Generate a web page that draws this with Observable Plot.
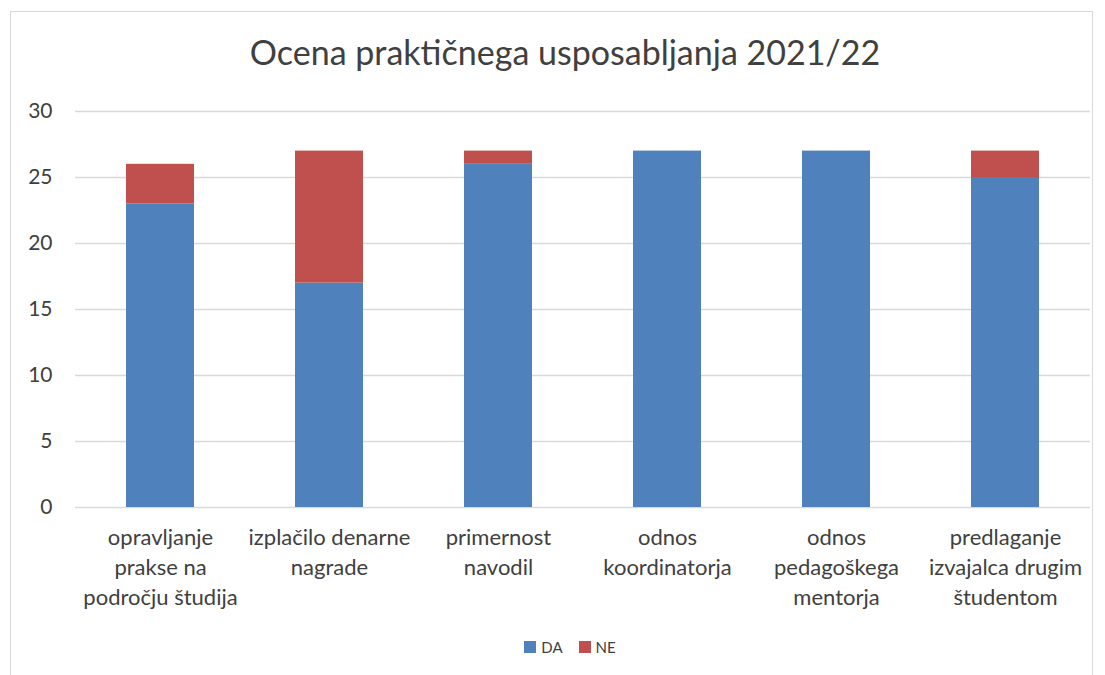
<!DOCTYPE html>
<html>
<head>
<meta charset="utf-8">
<script src="https://cdn.jsdelivr.net/npm/d3@7"></script>
<script src="https://cdn.jsdelivr.net/npm/@observablehq/plot@0.6"></script>
<style>
  body { margin: 0; background: #fff; font-family: Lato, "Open Sans", sans-serif; }
  #wrap { position: relative; width: 1105px; height: 675px; overflow: hidden; background: #fff; }
  #frame { position: absolute; left: 10px; top: 11px; width: 1083px; height: 700px; border: 1px solid #d9d9d9; box-sizing: border-box; }
  #title { position: absolute; left: 0; top: 32px; width: 1130px; text-align: center; font-size: 34px; color: #404040; line-height: 1.2; }
  #chart { position: absolute; left: 0; top: 0; }
  #legend { position: absolute; top: 638px; left: 0; width: 1140px; display: flex; justify-content: center; gap: 16px; font-size: 15px; color: #404040; }
  .item { display: flex; align-items: center; gap: 5px; }
  .sw { width: 12px; height: 12px; display: inline-block; }
</style>
</head>
<body>
<div id="wrap">
  <div id="frame"></div>
  <div id="title">Ocena praktičnega usposabljanja 2021/22</div>
  <div id="chart"></div>
  <div id="legend"></div>
</div>
<script>
const categories = [
  "opravljanje\nprakse na\npodročju študija",
  "izplačilo denarne\nnagrade",
  "primernost\nnavodil",
  "odnos\nkoordinatorja",
  "odnos\npedagoškega\nmentorja",
  "predlaganje\nizvajalca drugim\nštudentom"
];
const daValues = [23, 17, 26, 27, 27, 25];
const neValues = [3, 10, 1, 0, 0, 2];
const seriesNames = ["DA", "NE"];
const seriesColors = ["#4F81BD", "#C0504D"];
const yTicks = [0, 5, 10, 15, 20, 25, 30];

const rows = [];
categories.forEach((c, i) => {
  rows.push({category: c, series: "DA", value: daValues[i]});
  rows.push({category: c, series: "NE", value: neValues[i]});
});

const chart = Plot.plot({
  width: 1105,
  height: 620,
  marginTop: 111,
  marginBottom: 113,
  marginLeft: 75,
  marginRight: 15,
  style: {fontFamily: "Lato, 'Open Sans', sans-serif", fontSize: "21px", color: "#404040", background: "transparent"},
  x: {domain: categories, paddingInner: 0.6, paddingOuter: 0.3, axis: null},
  y: {domain: [0, 30], axis: null},
  color: {domain: seriesNames, range: seriesColors},
  marks: [
    Plot.ruleY(yTicks, {stroke: "#d9d9d9", strokeWidth: 1.5}),
    Plot.barY(rows, {x: "category", y: "value", fill: "series", order: seriesNames}),
    Plot.axisY({ticks: yTicks, tickSize: 0, tickPadding: 23, fontSize: 21, fill: "#404040", label: null}),
    Plot.text(categories, {x: d => d, text: d => d, frameAnchor: "bottom", lineAnchor: "top", dy: 16, lineHeight: 1.36, fontSize: 22, fill: "#404040"})
  ]
});
document.getElementById("chart").appendChild(chart);

const legend = document.getElementById("legend");
seriesNames.forEach((s, i) => {
  const item = document.createElement("div");
  item.className = "item";
  item.innerHTML = `<span class="sw" style="background:${seriesColors[i]}"></span><span>${s}</span>`;
  legend.appendChild(item);
});
</script>
</body>
</html>
